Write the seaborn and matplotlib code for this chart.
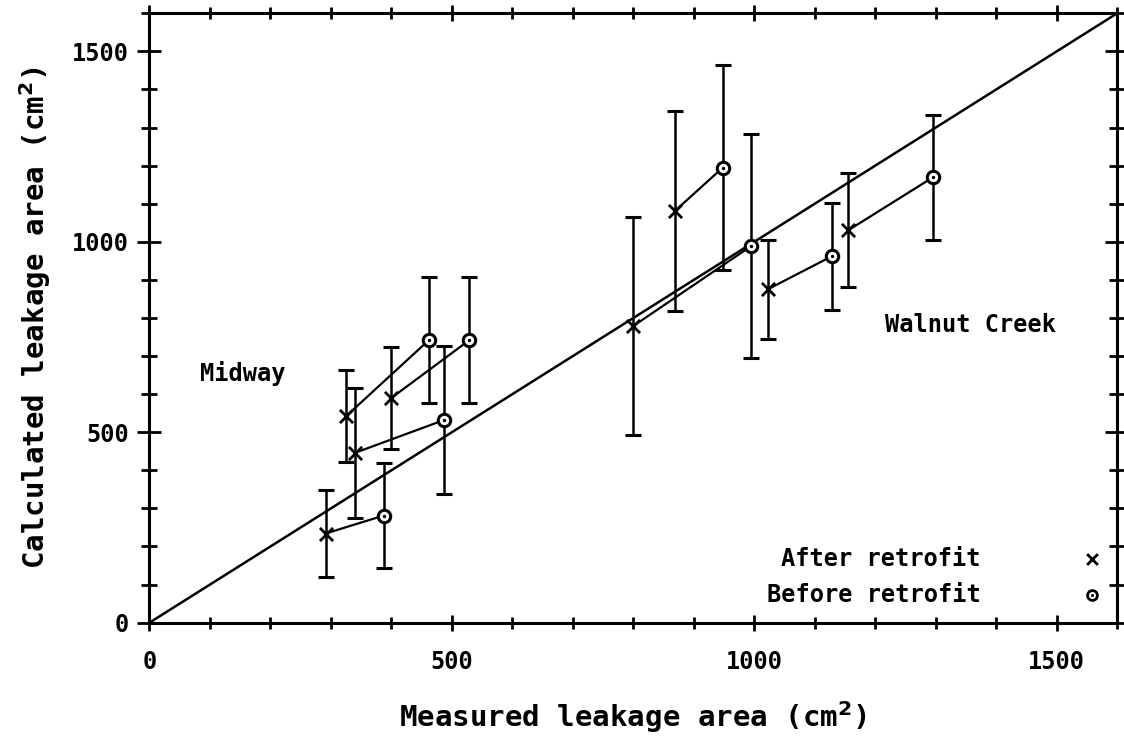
import numpy as np
import pandas as pd
import matplotlib
matplotlib.use("Agg")
import matplotlib.pyplot as plt
import seaborn as sns
from matplotlib.ticker import MultipleLocator

# ---- data ----
pair_ids = ["M1", "M2", "M3", "M4", "W1", "W2", "W3", "W4"]
after_x = [291, 325, 340, 399, 800, 868, 1022, 1155]
after_y = [234, 542, 446, 589, 779, 1080, 875, 1030]
after_err = [115, 121, 170, 134, 286, 263, 130, 150]
before_x = [387, 462, 487, 529, 995, 948, 1128, 1295]
before_y = [281, 742, 532, 742, 989, 1195, 962, 1169]
before_err = [137, 166, 195, 166, 295, 270, 140, 164]

x_ticks = [0, 500, 1000, 1500]
y_ticks = [0, 500, 1000, 1500]
axis_max = 1600

df = pd.DataFrame({
    "pair": pair_ids * 2,
    "status": ["After retrofit"] * len(pair_ids) + ["Before retrofit"] * len(pair_ids),
    "measured": after_x + before_x,
    "calculated": after_y + before_y,
    "err": after_err + before_err,
})

sns.set_style("ticks")
plt.rcParams["font.family"] = ["DejaVu Sans Mono", "DejaVu Sans"]
plt.rcParams["font.weight"] = "bold"
for k in ["text.color", "axes.labelcolor", "xtick.color", "ytick.color", "axes.edgecolor"]:
    plt.rcParams[k] = "black"

fig = plt.figure(figsize=(11.24, 7.36), dpi=100)
ax = fig.add_axes([0.133, 0.154, 0.861, 0.828])

# 1:1 line
ax.axline((0, 0), slope=1, color="black", lw=1.8, zorder=1)

# error bars
ax.errorbar(df["measured"], df["calculated"], yerr=df["err"], fmt="none",
            ecolor="black", elinewidth=1.8, capsize=6, capthick=2.2, zorder=2)

# connecting lines after -> before
sns.lineplot(data=df, x="measured", y="calculated", units="pair", estimator=None,
             sort=False, color="black", lw=1.6, ax=ax, zorder=3, legend=False)

# markers
a = df[df["status"] == "After retrofit"]
b = df[df["status"] == "Before retrofit"]
sns.scatterplot(data=a, x="measured", y="calculated", marker="x", s=90,
                color="black", linewidth=2, ax=ax, zorder=4, legend=False)
sns.scatterplot(data=b, x="measured", y="calculated", marker="o", s=80,
                facecolor="white", edgecolor="black", linewidth=2.2, ax=ax, zorder=4, legend=False)
sns.scatterplot(data=b, x="measured", y="calculated", marker="o", s=6,
                color="black", linewidth=0, ax=ax, zorder=5, legend=False)

ax.set_xlim(0, axis_max)
ax.set_ylim(0, axis_max)
ax.set_xticks(x_ticks)
ax.set_yticks(y_ticks)
ax.xaxis.set_minor_locator(MultipleLocator(100))
ax.yaxis.set_minor_locator(MultipleLocator(100))
ax.tick_params(axis="x", which="major", direction="inout", length=12, width=2,
               top=True, bottom=True, labelsize=17, pad=14)
ax.tick_params(axis="x", which="minor", direction="inout", length=9, width=2,
               top=True, bottom=True)
ax.tick_params(axis="y", which="major", direction="inout", length=17, width=2,
               left=True, right=True, labelsize=17, pad=6)
ax.tick_params(axis="y", which="minor", direction="inout", length=12, width=2,
               left=True, right=True)
for sp in ax.spines.values():
    sp.set_linewidth(2.2)
    sp.set_color("black")
    sp.set_visible(True)

ax.set_xlabel("Measured leakage area (cm$^2$)", fontsize=21, labelpad=18, fontweight="bold")
ax.set_ylabel("Calculated leakage area (cm$^2$)", fontsize=21, labelpad=14, fontweight="bold")

ax.text(84, 655, "Midway", fontsize=17, ha="left", va="center", fontweight="bold")
ax.text(1216, 781, "Walnut Creek", fontsize=17, ha="left", va="center", fontweight="bold")

# legend-like annotations
ax.text(1374, 166, "After retrofit", fontsize=17, ha="right", va="center", fontweight="bold")
ax.text(1374, 72, "Before retrofit", fontsize=17, ha="right", va="center", fontweight="bold")
ax.scatter([1559], [168], marker="x", s=60, color="black", linewidth=2, zorder=5)
ax.scatter([1559], [72], marker="o", s=50, facecolor="white", edgecolor="black", linewidth=2, zorder=5)
ax.scatter([1559], [72], marker="o", s=5, color="black", linewidth=0, zorder=6)

fig.savefig("out.png", dpi=100)
